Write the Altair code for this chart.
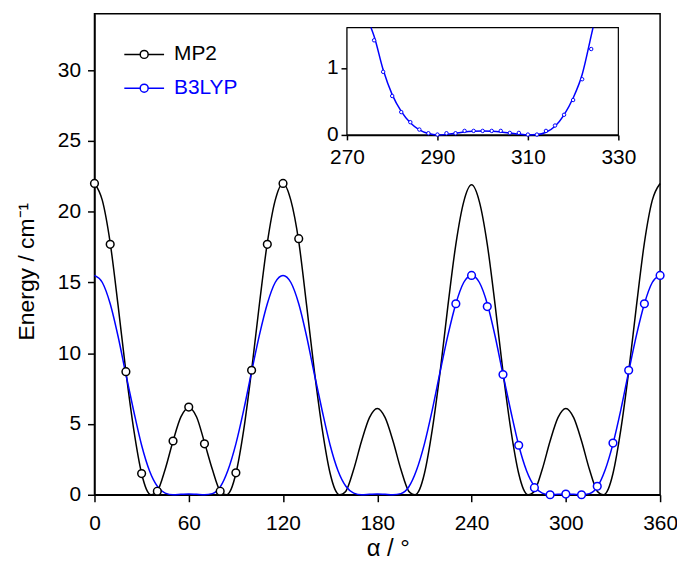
import altair as alt
import pandas as pd

FONT = "Liberation Sans"
BLUE = "#0000ff"

# ---------------- main curves ----------------
mp2_curve_angle = [0, 5, 10, 15, 20, 25, 30, 33, 36, 38, 40, 45, 50, 55, 60, 65, 70, 75, 80, 82, 84, 87, 90, 95, 100, 105, 110, 115,
                   120, 125, 130, 135, 140, 145, 150, 153, 156, 158, 160, 165, 170, 175, 180, 185, 190, 195, 200, 202, 204, 207, 210, 215, 220, 225, 230, 235,
                   240, 245, 250, 255, 260, 265, 270, 273, 276, 278, 280, 285, 290, 295, 300, 305, 310, 315, 320, 322, 324, 327, 330, 335, 340, 345, 350, 355, 360]
mp2_curve_energy = [22.0, 20.8, 17.8, 13.4, 8.7, 4.6, 1.5, 0.4, 0.0, 0.06, 0.25, 1.8, 3.8, 5.5, 6.15, 5.5, 3.7, 1.8, 0.25, 0.06, 0.0, 0.4, 1.5, 4.6, 8.8, 13.5, 17.8, 20.8,
                    22.0, 20.8, 17.9, 13.4, 8.7, 4.6, 1.5, 0.4, 0.0, 0.06, 0.25, 1.8, 3.8, 5.45, 6.1, 5.45, 3.8, 1.8, 0.25, 0.06, 0.0, 0.4, 1.5, 4.6, 8.7, 13.4, 17.7, 20.7,
                    21.9, 20.7, 17.7, 13.4, 8.7, 4.6, 1.5, 0.4, 0.0, 0.06, 0.25, 1.8, 3.8, 5.45, 6.1, 5.45, 3.8, 1.8, 0.25, 0.06, 0.0, 0.4, 1.5, 4.6, 8.7, 13.4, 17.8, 20.8, 22.0]

b3lyp_curve_angle = [0, 5, 10, 15, 20, 25, 30, 35, 40, 45, 50, 55, 60, 65, 70, 75, 80, 85, 90, 95, 100, 105, 110, 115,
                     120, 125, 130, 135, 140, 145, 150, 155, 160, 165, 170, 175, 180, 185, 190, 195, 200, 205, 210, 215, 220, 225, 230, 235,
                     240, 245, 250, 255, 260, 265, 270, 275, 280, 285, 290, 295, 300, 305, 310, 315, 320, 325, 330, 335, 340, 345, 350, 355, 360]
b3lyp_curve_energy = [15.5, 15.0, 13.5, 11.2, 8.5, 5.9, 3.5, 1.7, 0.6, 0.12, 0.0, 0.03, 0.06, 0.03, 0.0, 0.08, 0.55, 1.75, 3.6, 6.0, 8.7, 11.3, 13.5, 15.0,
                      15.5, 15.0, 13.5, 11.2, 8.5, 5.9, 3.5, 1.7, 0.6, 0.12, 0.0, 0.03, 0.06, 0.03, 0.0, 0.08, 0.55, 1.75, 3.6, 6.0, 8.7, 11.3, 13.5, 15.0,
                      15.5, 15.0, 13.5, 11.2, 8.5, 5.9, 3.5, 1.7, 0.6, 0.12, 0.0, 0.03, 0.06, 0.03, 0.0, 0.08, 0.55, 1.75, 3.6, 6.0, 8.7, 11.3, 13.5, 15.0, 15.5]

# ---------------- main markers ----------------
mp2_pt_angle = [0, 10, 20, 30, 40, 50, 60, 70, 80, 90, 100, 110, 120, 130]
mp2_pt_energy = [22.0, 17.7, 8.7, 1.5, 0.25, 3.8, 6.2, 3.6, 0.25, 1.55, 8.8, 17.7, 22.0, 18.1]
b3lyp_pt_angle = [230, 240, 250, 260, 270, 280, 290, 300, 310, 320, 330, 340, 350, 360]
b3lyp_pt_energy = [13.5, 15.5, 13.3, 8.5, 3.5, 0.5, 0.0, 0.05, 0.0, 0.6, 3.65, 8.8, 13.5, 15.5]

# ---------------- inset ----------------
inset_curve_angle = [275.3, 276, 278, 280, 282, 284, 286, 288, 290, 292, 294, 296, 298, 300, 302, 304, 306, 308, 310, 312, 314, 316, 318, 320, 322, 324, 324.4]
inset_curve_energy = [1.6, 1.47, 0.97, 0.6, 0.35, 0.18, 0.075, 0.02, 0.0, 0.008, 0.025, 0.045, 0.055, 0.06, 0.055, 0.045, 0.03, 0.012, 0.0, 0.005, 0.04, 0.13, 0.3, 0.55, 0.9, 1.48, 1.6]
inset_pt_angle = [276, 278, 280, 282, 284, 286, 288, 290, 292, 294, 296, 298, 300, 302, 304, 306, 308, 310, 312, 314, 316, 318, 320, 322, 324]
inset_pt_energy = [1.41, 0.94, 0.58, 0.34, 0.19, 0.08, 0.025, 0.005, 0.025, 0.025, 0.06, 0.06, 0.06, 0.06, 0.06, 0.03, 0.03, 0.005, 0.005, 0.06, 0.14, 0.30, 0.52, 0.83, 1.28]
inset_x_domain = [270, 330]
inset_y_domain = [0, 1.6]

series_names = ["MP2", "B3LYP"]
x_ticks = [0, 60, 120, 180, 240, 300, 360]
y_ticks = [0, 5, 10, 15, 20, 25, 30]
inset_x_ticks = [270, 290, 310, 330]
inset_y_ticks = [0, 1]

curves = pd.DataFrame({
    "angle": mp2_curve_angle + b3lyp_curve_angle,
    "energy": mp2_curve_energy + b3lyp_curve_energy,
    "series": [series_names[0]] * len(mp2_curve_angle) + [series_names[1]] * len(b3lyp_curve_angle),
})
mp2_pts = pd.DataFrame({"angle": mp2_pt_angle, "energy": mp2_pt_energy})
b3_pts = pd.DataFrame({"angle": b3lyp_pt_angle, "energy": b3lyp_pt_energy})
inset_curve = pd.DataFrame({"angle": inset_curve_angle, "energy": inset_curve_energy})
inset_pts = pd.DataFrame({"angle": inset_pt_angle, "energy": inset_pt_energy})
inset_frame = pd.DataFrame({"angle": [inset_x_domain[0]], "angle2": [inset_x_domain[1]],
                            "energy": [inset_y_domain[0]], "energy2": [inset_y_domain[1]]})

# ---------------- main scales ----------------
x_scale = alt.Scale(domain=[0, 360], nice=False, zero=False)
y_scale = alt.Scale(domain=[0, 34], nice=False)

x_main = alt.X("angle:Q", scale=x_scale,
               axis=alt.Axis(values=x_ticks, title="α / °", tickSize=7, labelPadding=11, labelFlush=False,
                             titleX=295, titleY=61, titleBaseline="alphabetic", titleAlign="center",
                             titleFontSize=24))
y_main = alt.Y("energy:Q", scale=y_scale,
               axis=alt.Axis(values=y_ticks, title="Energy / cm⁻¹", tickSize=7, labelPadding=7, labelFlush=False,
                             titleX=-61, titleY=259, titleBaseline="alphabetic", titleAlign="center",
                             titleAngle=270, titleFontSize=23))

legend_path = "M-2,0L-0.4,0M0.4,0A0.4,0.4,0,1,1,-0.4,0A0.4,0.4,0,1,1,0.4,0M0.4,0L2,0"
legend = alt.Legend(title=None, orient="none", legendX=39, legendY=30,
                    symbolType=legend_path, symbolSize=400, symbolStrokeWidth=1.5,
                    symbolFillColor="white", labelFont=FONT, labelFontSize=21,
                    labelOffset=19, rowPadding=13,
                    labelColor={"expr": "datum.label == 'B3LYP' ? '#0000ff' : '#000000'"})

color = alt.Color("series:N", scale=alt.Scale(domain=series_names, range=["#000000", BLUE]), legend=legend)

lines = alt.Chart(curves).mark_line(strokeWidth=1.5, interpolate="monotone").encode(
    x=x_main, y=y_main, color=color)
mp2_points = alt.Chart(mp2_pts).mark_point(shape="circle", filled=True, fill="white", stroke="black",
                                           strokeWidth=1.5, size=60, opacity=1).encode(
    x=alt.X("angle:Q", scale=x_scale), y=alt.Y("energy:Q", scale=y_scale))
b3_points = alt.Chart(b3_pts).mark_point(shape="circle", filled=True, fill="white", stroke=BLUE,
                                         strokeWidth=1.5, size=60, opacity=1).encode(
    x=alt.X("angle:Q", scale=x_scale), y=alt.Y("energy:Q", scale=y_scale))

main = alt.layer(lines, mp2_points, b3_points)

# ---------------- inset scales ----------------
xi_scale = alt.Scale(domain=inset_x_domain, range=[254, 527], nice=False, zero=False)
yi_scale = alt.Scale(domain=inset_y_domain, range=[122, 14], nice=False)

xi = alt.X("angle:Q", scale=xi_scale,
           axis=alt.Axis(orient="bottom", offset=-362, values=inset_x_ticks, title=None,
                         tickSize=5, labelPadding=7, labelFlush=False))
yi = alt.Y("energy:Q", scale=yi_scale,
           axis=alt.Axis(orient="left", offset=-254, values=inset_y_ticks, title=None, format="d",
                         tickSize=6, labelPadding=3, labelFlush=False))

frame = alt.Chart(inset_frame).mark_rect(fill="white", stroke="black", strokeWidth=1.2).encode(
    x=xi, x2="angle2:Q", y=yi, y2="energy2:Q")
inset_line = alt.Chart(inset_curve).mark_line(color=BLUE, strokeWidth=1.5, interpolate="monotone").encode(
    x=alt.X("angle:Q", scale=xi_scale), y=alt.Y("energy:Q", scale=yi_scale))
inset_points = alt.Chart(inset_pts).mark_point(shape="circle", filled=True, fill="white", stroke=BLUE,
                                              strokeWidth=1, size=12, opacity=1).encode(
    x=alt.X("angle:Q", scale=xi_scale), y=alt.Y("energy:Q", scale=yi_scale))

inset = alt.layer(frame, inset_line, inset_points)

chart = alt.layer(main, inset).resolve_scale(x="independent", y="independent").properties(
    width=569, height=484,
    autosize=alt.AutoSizeParams(type="none"),
    padding={"left": 87, "top": 4, "right": 17, "bottom": 72},
).configure_view(stroke="black", strokeWidth=1.5).configure_axis(
    labelFont=FONT, labelFontSize=21, labelColor="black",
    titleFont=FONT, titleFontSize=22, titleColor="black", titleFontWeight="normal",
    domainColor="black", domainWidth=1.5, tickColor="black", tickWidth=1.5, grid=False,
)

chart.save("out.html", embed_options={"renderer": "svg", "actions": False})
